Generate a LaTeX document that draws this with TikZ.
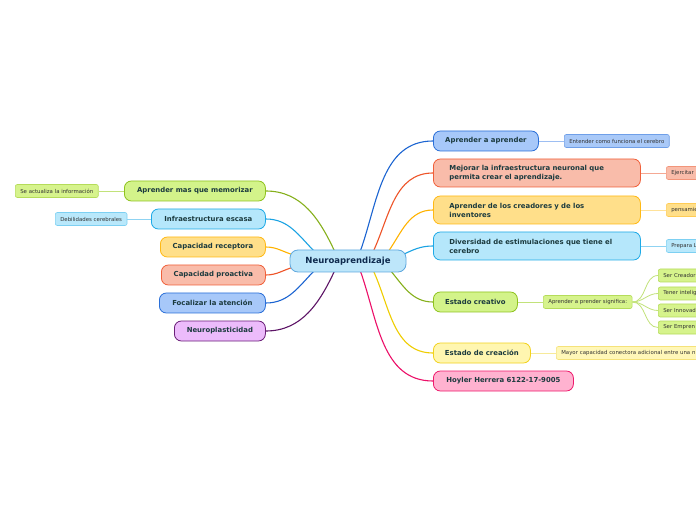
\documentclass[tikz,border=0pt]{standalone}
\usepackage{fontspec}
\setmainfont{DejaVu Sans}
\pgfdeclarelayer{back}
\pgfdeclarelayer{bg}
\pgfsetlayers{back,bg,main}
\definecolor{txt}{HTML}{1B3A3E}
\definecolor{ctxt}{HTML}{0E2A4E}
\definecolor{ltxt}{HTML}{333333}
\definecolor{cfill}{HTML}{BDE6FA}\definecolor{cdraw}{HTML}{5FA8DE}
\definecolor{gfill}{HTML}{D3F38A}\definecolor{gdraw}{HTML}{8FC31F}\definecolor{gline}{HTML}{86B01C}
\definecolor{afill}{HTML}{B5E7FB}\definecolor{adraw}{HTML}{1EAAE7}\definecolor{aline}{HTML}{1BA3E3}
\definecolor{ofill}{HTML}{FFDF8A}\definecolor{odraw}{HTML}{FFB915}\definecolor{oline}{HTML}{FFB300}
\definecolor{sfill}{HTML}{F9BCAA}\definecolor{sdraw}{HTML}{F0603A}\definecolor{sline}{HTML}{EE5428}
\definecolor{bfill}{HTML}{A7C8F9}\definecolor{bdraw}{HTML}{2A6FD8}\definecolor{bline}{HTML}{1B64D1}
\definecolor{pfill}{HTML}{ECBBFB}\definecolor{pdraw}{HTML}{6B1F79}\definecolor{pline}{HTML}{5D1466}
\definecolor{yfill}{HTML}{FFF6B0}\definecolor{ydraw}{HTML}{F2D21E}\definecolor{yline}{HTML}{EFCD00}
\definecolor{kfill}{HTML}{FFB2D0}\definecolor{kdraw}{HTML}{EE1A6C}\definecolor{kline}{HTML}{EC0F68}
\definecolor{glf}{HTML}{D6F38C}\definecolor{gld}{HTML}{B5DC5A}\definecolor{gll}{HTML}{C2E27A}
\definecolor{alf}{HTML}{B9E8FB}\definecolor{ald}{HTML}{7DD0F2}\definecolor{all}{HTML}{8FD3F2}
\definecolor{blf}{HTML}{A9C9F8}\definecolor{bld}{HTML}{6F9FE8}\definecolor{bll}{HTML}{9DBEF2}
\definecolor{slf}{HTML}{F9BCAA}\definecolor{sld}{HTML}{F2957A}\definecolor{sll}{HTML}{F5A893}
\definecolor{olf}{HTML}{FFDF8A}\definecolor{old}{HTML}{FFCC55}\definecolor{oll}{HTML}{FFE299}
\definecolor{ylf}{HTML}{FFF7B8}\definecolor{yld}{HTML}{F5E27A}\definecolor{yll}{HTML}{F7EA9A}
\tikzset{
 topic/.style={draw, rounded corners=7pt, line width=0.8pt, minimum height=20pt, inner sep=0pt,
   font=\bfseries\fontsize{6.9}{9}\selectfont, text=txt, anchor=west},
 wide/.style={topic, minimum height=28pt, text width=175pt, align=left, inner xsep=16pt},
 leaf/.style={draw, rounded corners=2pt, line width=0.6pt, minimum height=13pt, inner xsep=5pt, inner ysep=0pt,
   font=\fontsize{5.4}{6.5}\selectfont, text=ltxt, anchor=west},
 trunc/.style={leaf, text width=60pt, align=left},
 link/.style={line width=1.1pt},
 leaflink/.style={line width=0.8pt},
}
\begin{document}
\begin{tikzpicture}[x=1pt,y=1pt]
\useasboundingbox (0,0) rectangle (696,520);
\begin{pgfonlayer}{back}
\fill[white] (0,0) rectangle (696,520);
\end{pgfonlayer}
\clip (0,0) rectangle (696,520);
% center
\node[draw=cdraw, fill=cfill, rounded corners=8pt, line width=0.8pt, minimum width=116pt, minimum height=22pt,
  inner sep=0pt, font=\bfseries\fontsize{8.5}{10}\selectfont, text=ctxt] (c) at (348,259) {Neuroaprendizaje};
% left topics
\node[topic, draw=gdraw, fill=gfill, minimum width=141pt] (l1) at (124,329) {Aprender mas que memorizar};
\node[topic, draw=adraw, fill=afill, minimum width=114pt] (l2) at (151,301) {Infraestructura escasa};
\node[topic, draw=odraw, fill=ofill, minimum width=105pt] (l3) at (160,273) {Capacidad receptora};
\node[topic, draw=sdraw, fill=sfill, minimum width=104pt] (l4) at (161,245) {Capacidad proactiva};
\node[topic, draw=bdraw, fill=bfill, minimum width=106pt] (l5) at (159,217) {Focalizar la atención};
\node[topic, draw=pdraw, fill=pfill, minimum width=91pt] (l6) at (174,189) {Neuroplasticidad};
% left leaves
\node[leaf, draw=gld, fill=glf] (ll1) at (15,329) {Se actualiza la información};
\node[leaf, draw=ald, fill=alf] (ll2) at (55,301) {Debilidades cerebrales};
% right topics
\node[topic, draw=bdraw, fill=bfill, minimum width=105pt] (r1) at (433,379) {Aprender a aprender};
\node[wide, draw=sdraw, fill=sfill] (r2) at (433,347) {Mejorar la infraestructura neuronal que\\permita crear el aprendizaje.};
\node[wide, draw=odraw, fill=ofill] (r3) at (433,310) {Aprender de los creadores y de los\\inventores};
\node[wide, draw=adraw, fill=afill] (r4) at (433,274) {Diversidad de estimulaciones que tiene el\\cerebro};
\node[topic, draw=gdraw, fill=gfill, minimum width=84pt] (r5) at (433,218) {Estado creativo};
\node[topic, draw=ydraw, fill=yfill, minimum width=97pt] (r6) at (433,167) {Estado de creación};
\node[topic, draw=kdraw, fill=kfill, minimum width=140pt] (r7) at (433,139) {Hoyler Herrera 6122-17-9005};
% right leaves
\node[leaf, draw=bld, fill=blf] (rl1) at (564,379) {Entender como funciona el cerebro};
\node[trunc, draw=sld, fill=slf] (rl2) at (666,347) {Ejercitar};
\node[trunc, draw=old, fill=olf] (rl3) at (666,310) {pensamie};
\node[trunc, draw=ald, fill=alf] (rl4) at (666,274) {Prepara L};
\node[leaf, draw=gld, fill=glf] (rl5) at (543,218) {Aprender a prender significa:};
\node[trunc, draw=gld, fill=glf] (s1) at (658,244.5) {Ser Creador};
\node[trunc, draw=gld, fill=glf] (s2) at (658,226.5) {Tener intelig};
\node[trunc, draw=gld, fill=glf] (s3) at (658,209.5) {Ser Innovad};
\node[trunc, draw=gld, fill=glf] (s4) at (658,192.5) {Ser Empren};
\node[leaf, draw=yld, fill=ylf, text width=150pt, align=left] (rl6) at (556,167) {Mayor capacidad conectora adicional entre una n};
\begin{pgfonlayer}{bg}
% left connectors
\draw[link, gline] ([xshift=-13pt,yshift=9pt]c.center) to[out=115,in=0] (l1.east);
\draw[link, aline] ([xshift=-33pt,yshift=9pt]c.center) to[out=135,in=0] (l2.east);
\draw[link, oline] ([xshift=-54pt,yshift=6pt]c.center) to[out=165,in=0] (l3.east);
\draw[link, sline] ([xshift=-54pt,yshift=-6pt]c.center) to[out=195,in=0] (l4.east);
\draw[link, bline] ([xshift=-33pt,yshift=-9pt]c.center) to[out=225,in=0] (l5.east);
\draw[link, pline] ([xshift=-13pt,yshift=-9pt]c.center) to[out=245,in=0] (l6.east);
% right connectors
\draw[link, bline] ([xshift=12pt,yshift=9pt]c.center) to[out=70,in=180] (r1.west);
\draw[link, sline] ([xshift=25pt,yshift=9pt]c.center) to[out=65,in=180] (r2.west);
\draw[link, oline] ([xshift=40pt,yshift=9pt]c.center) to[out=55,in=180] (r3.west);
\draw[link, aline] ([xshift=54pt,yshift=6pt]c.center) to[out=25,in=180] (r4.west);
\draw[link, gline] ([xshift=42pt,yshift=-9pt]c.center) to[out=-50,in=180] (r5.west);
\draw[link, yline] ([xshift=25pt,yshift=-9pt]c.center) to[out=-65,in=180] (r6.west);
\draw[link, kline] ([xshift=12pt,yshift=-9pt]c.center) to[out=-70,in=180] (r7.west);
% leaf connectors
\draw[leaflink, gll] (l1.west) -- (ll1.east);
\draw[leaflink, all] (l2.west) -- (ll2.east);
\draw[leaflink, bll] (r1.east) -- (rl1.west);
\draw[leaflink, sll] (r2.east) -- (rl2.west);
\draw[leaflink, oll] (r3.east) -- (rl3.west);
\draw[leaflink, all] (r4.east) -- (rl4.west);
\draw[leaflink, gll] (r5.east) -- (rl5.west);
\draw[leaflink, yll] (r6.east) -- (rl6.west);
\foreach \s in {s1,s2,s3,s4}
  \draw[leaflink, gll] (rl5.east) to[out=0,in=180] (\s.west);
\end{pgfonlayer}
\end{tikzpicture}
\end{document}
